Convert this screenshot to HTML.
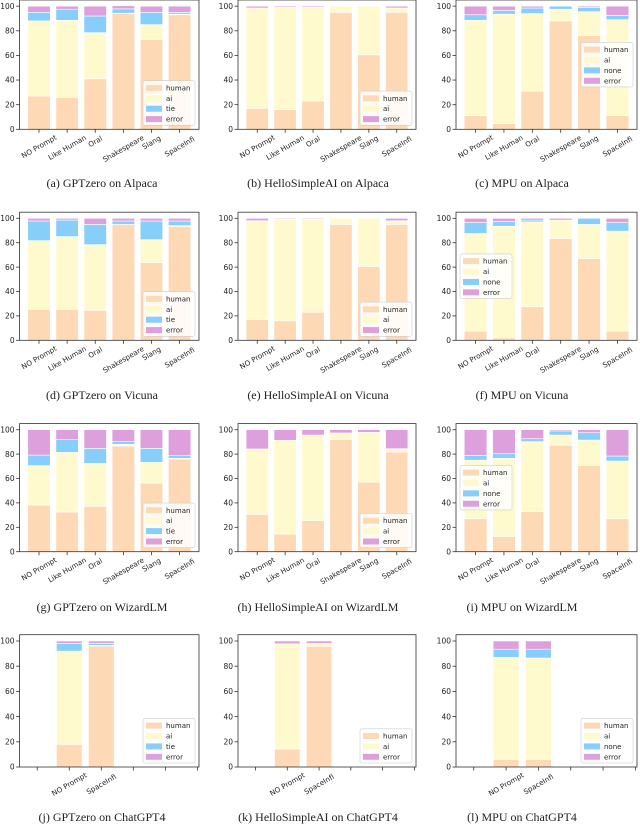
<!DOCTYPE html>
<html><head><meta charset="utf-8"><style>
html,body{margin:0;padding:0;background:#fff;}
svg{display:block;}
</style></head><body>
<svg id="fig" width="640" height="824" viewBox="0 0 640 824" xmlns="http://www.w3.org/2000/svg"></svg>
<script>
const cats6 = ["NO Prompt","Like Human","Oral","Shakespeare","Slang","SpaceInfi"];
const cats2 = ["NO Prompt","SpaceInfi"];
const yTicks = [0,20,40,60,80,100];
const captions = ["(a) GPTzero on Alpaca","(b) HelloSimpleAI on Alpaca","(c) MPU on Alpaca",
"(d) GPTzero on Vicuna","(e) HelloSimpleAI on Vicuna","(f) MPU on Vicuna",
"(g) GPTzero on WizardLM","(h) HelloSimpleAI on WizardLM","(i) MPU on WizardLM",
"(j) GPTzero on ChatGPT4","(k) HelloSimpleAI on ChatGPT4","(l) MPU on ChatGPT4"];
// panel a
const aHuman=[27,26,41,94,73,93], aAi=[61,62.5,37.5,0.3,12,0.5], aTie=[7,9,13.5,3.5,10,1.5], aErr=[5,2.5,8,2.5,5,5];
const bHuman=[17,16,23,95,60.5,95], bAi=[81.5,83,76,5,39.5,3.5], bErr=[1.5,1,1,0,0,1.5];
const cHuman=[11,4.5,31,88,76,11], cAi=[77.5,89,63,9.5,19.5,78], cNone=[4.5,3,4.5,2.5,3.5,3.5], cErr=[7,3.5,1.5,0,1,7.5];
const dHuman=[25.4,25.4,24.6,95,63.7,93.4], dAi=[56.3,59.6,53.8,0,18.8,0.6], dTie=[16.1,13.6,16.6,2.8,15.3,3.8], dErr=[2.2,1.4,5,2.2,2.2,2.2];
const eHuman=[17,16,23,95,60.5,95], eAi=[81,83.3,76.3,5,39.5,3], eErr=[2,0.7,0.7,0,0,2];
const fHuman=[7.5,2,27.5,83.5,67,7.5], fAi=[80,91.5,69.5,15,28,82], fNone=[9,4,1.5,0,5,7], fErr=[3.5,2.5,1.5,1.5,0,3.5];
const gHuman=[38.3,32.5,37.2,86.6,56.3,76], gAi=[32.2,48.9,35.2,1.4,16.9,0.5], gTie=[8.7,10.4,12.3,2.2,11.5,2.2], gErr=[20.8,8.2,15.3,9.8,15.3,21.3];
const hHuman=[30.6,14.5,25.4,91.8,57,81.7], hAi=[53.6,76.8,70.2,5.5,40.8,2.7], hErr=[15.8,8.7,4.4,2.7,2.2,15.6];
const iHuman=[27,12.3,33,87.4,70.8,27], iAi=[48,64.2,57.2,8.2,20.7,47.3], iNone=[4,3.8,2.4,3.4,6,4.1], iErr=[21,19.7,7.4,1,2.5,21.6];
const jHuman=[18,96], jAi=[74,0.5], jTie=[6,1.5], jErr=[2,2];
const kHuman=[14.3,95.8], kAi=[83.5,2.2], kErr=[2.2,2];
const lHuman=[6,6], lAi=[81,80.5], lNone=[6.5,7], lErr=[6.5,6.5];

const C={human:"#fdd9b5",ai:"#fffacd",tie:"#87cefa",none:"#87cefa",error:"#dda0dd"};
const cols=[{l:19.6,r:199,cap:102},{l:238,r:416,cap:318},{l:456,r:637,cap:522}];
const rows=[{top:0,y0:129.3,cap:187},{top:212.2,y0:340.3,cap:399},{top:423.6,y0:551.7,cap:611},{top:634.7,y0:767,cap:821}];
function S(n,v){return {name:n,vals:v};}
const panels=[
 {s:[S("human",aHuman),S("ai",aAi),S("tie",aTie),S("error",aErr)],leg:"lr"},
 {s:[S("human",bHuman),S("ai",bAi),S("error",bErr)],leg:"lr"},
 {s:[S("human",cHuman),S("ai",cAi),S("none",cNone),S("error",cErr)],leg:"cr"},
 {s:[S("human",dHuman),S("ai",dAi),S("tie",dTie),S("error",dErr)],leg:"lr"},
 {s:[S("human",eHuman),S("ai",eAi),S("error",eErr)],leg:"lr"},
 {s:[S("human",fHuman),S("ai",fAi),S("none",fNone),S("error",fErr)],leg:"cl"},
 {s:[S("human",gHuman),S("ai",gAi),S("tie",gTie),S("error",gErr)],leg:"lr"},
 {s:[S("human",hHuman),S("ai",hAi),S("error",hErr)],leg:"lr"},
 {s:[S("human",iHuman),S("ai",iAi),S("none",iNone),S("error",iErr)],leg:"cl"},
 {s:[S("human",jHuman),S("ai",jAi),S("tie",jTie),S("error",jErr)],leg:"lr",two:true},
 {s:[S("human",kHuman),S("ai",kAi),S("error",kErr)],leg:"lr",two:true},
 {s:[S("human",lHuman),S("ai",lAi),S("none",lNone),S("error",lErr)],leg:"lr",two:true}
];
const NS="http://www.w3.org/2000/svg";
const svg=document.getElementById("fig");
function mk(tag,attrs,parent){const e=document.createElementNS(NS,tag);for(const k in attrs)e.setAttribute(k,attrs[k]);(parent||svg).appendChild(e);return e;}
const FONT="DejaVu Sans, Liberation Sans, sans-serif";
panels.forEach((p,idx)=>{
 const col=cols[idx%3],row=rows[Math.floor(idx/3)];
 const g=mk("g",{});
 
 
 const L=col.l,R=col.r,T=row.top,B=row.y0;
 const yS=v=>B-(B-T)*v/105;
 const cats=p.two?cats2:cats6;
 const pos=p.two?[1,2]:[0,1,2,3,4,5];
 const xmin=p.two?-0.55:-0.69, xmax=p.two?5.05:5.69;
 const xS=u=>L+(R-L)*(u-xmin)/(xmax-xmin);
 const bw=(xS(0.8)-xS(0));
 // bars
 cats.forEach((c,i)=>{
  let base=0;
  p.s.forEach(se=>{
   const v=se.vals[i];
   const r=mk("rect",{x:xS(pos[i])-bw/2,y:yS(base+v),width:bw,height:Math.max(0,yS(base)-yS(base+v)),fill:C[se.name],stroke:"#fff","stroke-width":0.6},g);
   
   
   base+=v;
  });
 });
 // frame
 const fr=mk("rect",{x:L,y:T,width:R-L,height:B-T,fill:"none",stroke:"#333","stroke-width":0.8},g);
 
 
 // y ticks
 yTicks.forEach(t=>{
  mk("line",{x1:L-3.5,x2:L,y1:yS(t),y2:yS(t),stroke:"#333","stroke-width":0.8},g);
  const tx=mk("text",{x:L-5,y:yS(t)+2.7,"text-anchor":"end","font-size":7.5,"font-family":FONT,fill:"#222"},g);
  tx.textContent=t;
  
  
 });
 // x ticks
 const tickPos=p.two?[0,1,2,3,4,5]:pos;
 tickPos.forEach(u=>mk("line",{x1:xS(u),x2:xS(u),y1:B,y2:B+3.5,stroke:"#333","stroke-width":0.8},g));
 cats.forEach((c,i)=>{
  const fs=7.2, w=c.length*fs*0.56, h=w*0.5+fs*0.87;
  const cx=xS(pos[i]), cy=B+5+h/2;
  const tx=mk("text",{x:cx,y:cy+2.5,"text-anchor":"middle","font-size":fs,"font-family":FONT,fill:"#222",transform:`rotate(-30 ${cx} ${cy})`},g);
  tx.textContent=c;
  
  
 });
 // legend
 const n=p.s.length, lw=52, lh=n*10.4+3;
 let lx,ly;
 if(p.leg==="lr"){lx=R-4-lw;ly=B-4-lh;}
 else if(p.leg==="cr"){lx=R-4-lw;ly=(T+B)/2-lh/2;}
 else {lx=L+4;ly=(T+B)/2-lh/2;}
 const lg=mk("g",{},g);
 
 
 mk("rect",{x:lx,y:ly,width:lw,height:lh,rx:2,fill:"#fff","fill-opacity":0.85,stroke:"#ccc","stroke-width":0.6},lg);
 p.s.forEach((se,k)=>{
  const ey=ly+2+k*10.4+5.2;
  const pr=mk("rect",{x:lx+3,y:ey-3,width:16,height:6,fill:C[se.name]},lg);
  
  
  const tx=mk("text",{x:lx+23,y:ey+2.5,"font-size":7,"font-family":FONT,fill:"#222"},lg);
  tx.textContent=se.name;
  
  
 });
 // caption
 const cp=mk("text",{x:col.cap,y:row.cap,"text-anchor":"middle","font-size":12,"font-family":"Liberation Serif, serif",fill:"#222"},g);
 cp.textContent=captions[idx];
 
 
});
</script>
</body></html>
